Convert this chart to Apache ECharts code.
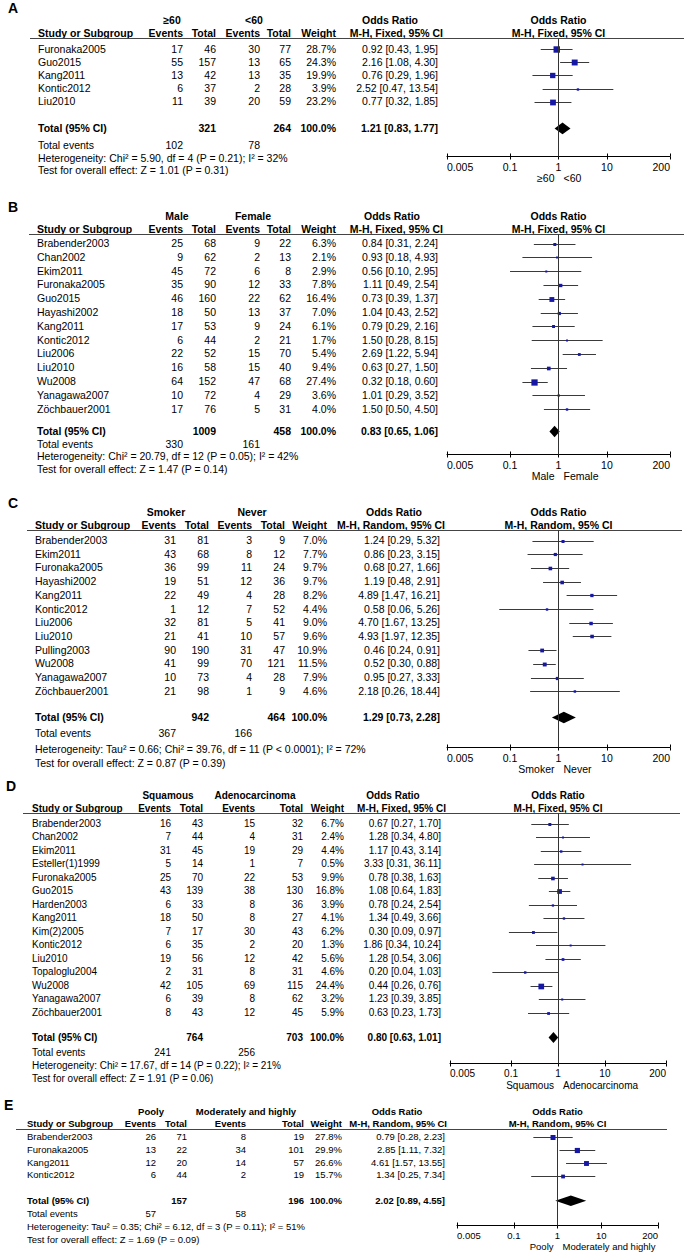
<!DOCTYPE html>
<html><head><meta charset="utf-8">
<script src="https://cdn.jsdelivr.net/npm/echarts@6/dist/echarts.min.js"></script>
<style>html,body{margin:0;padding:0;background:#fff}#c{width:685px;height:1255px}</style>
</head><body><div id="c"></div>
<script>
// ---------------- DATA ----------------
const TICK_VALUES = [0.005, 0.1, 1, 10, 200];
const TICK_LABELS = ['0.005', '0.1', '1', '10', '200'];

// Panel A : age
const A_studies = ['Furonaka2005', 'Guo2015', 'Kang2011', 'Kontic2012', 'Liu2010'];
const A_events1 = [17, 55, 13, 6, 11];
const A_total1 = [46, 157, 42, 37, 39];
const A_events2 = [30, 13, 13, 2, 20];
const A_total2 = [77, 65, 35, 28, 59];
const A_weight = [28.7, 24.3, 19.9, 3.9, 23.2];
const A_or = [0.92, 2.16, 0.76, 2.52, 0.77];
const A_lower = [0.43, 1.08, 0.29, 0.47, 0.32];
const A_upper = [1.95, 4.30, 1.96, 13.54, 1.85];
const A_summary = [1.21, 0.83, 1.77];
const A_totals = [321, 264];
const A_totalEvents = [102, 78];
const A_groups = ['≥60', '<60'];
const A_method = 'M-H, Fixed, 95% CI';
const A_heterogeneity = 'Heterogeneity: Chi² = 5.90, df = 4 (P = 0.21); I² = 32%';
const A_overallTest = 'Test for overall effect: Z = 1.01 (P = 0.31)';

// Panel B : gender
const B_studies = ['Brabender2003', 'Chan2002', 'Ekim2011', 'Furonaka2005', 'Guo2015', 'Hayashi2002', 'Kang2011', 'Kontic2012', 'Liu2006', 'Liu2010', 'Wu2008', 'Yanagawa2007', 'Zöchbauer2001'];
const B_events1 = [25, 9, 45, 35, 46, 18, 17, 6, 22, 16, 64, 10, 17];
const B_total1 = [68, 62, 72, 90, 160, 50, 53, 44, 52, 58, 152, 72, 76];
const B_events2 = [9, 2, 6, 12, 22, 13, 9, 2, 15, 15, 47, 4, 5];
const B_total2 = [22, 13, 8, 33, 62, 37, 24, 21, 70, 40, 68, 29, 31];
const B_weight = [6.3, 2.1, 2.9, 7.8, 16.4, 7.0, 6.1, 1.7, 5.4, 9.4, 27.4, 3.6, 4.0];
const B_or = [0.84, 0.93, 0.56, 1.11, 0.73, 1.04, 0.79, 1.50, 2.69, 0.63, 0.32, 1.01, 1.50];
const B_lower = [0.31, 0.18, 0.10, 0.49, 0.39, 0.43, 0.29, 0.28, 1.22, 0.27, 0.18, 0.29, 0.50];
const B_upper = [2.24, 4.93, 2.95, 2.54, 1.37, 2.52, 2.16, 8.15, 5.94, 1.50, 0.60, 3.52, 4.50];
const B_summary = [0.83, 0.65, 1.06];
const B_totals = [1009, 458];
const B_totalEvents = [330, 161];
const B_groups = ['Male', 'Female'];
const B_method = 'M-H, Fixed, 95% CI';
const B_heterogeneity = 'Heterogeneity: Chi² = 20.79, df = 12 (P = 0.05); I² = 42%';
const B_overallTest = 'Test for overall effect: Z = 1.47 (P = 0.14)';

// Panel C : smoking
const C_studies = ['Brabender2003', 'Ekim2011', 'Furonaka2005', 'Hayashi2002', 'Kang2011', 'Kontic2012', 'Liu2006', 'Liu2010', 'Pulling2003', 'Wu2008', 'Yanagawa2007', 'Zöchbauer2001'];
const C_events1 = [31, 43, 36, 19, 22, 1, 32, 21, 90, 41, 10, 21];
const C_total1 = [81, 68, 99, 51, 49, 12, 81, 41, 190, 99, 73, 98];
const C_events2 = [3, 8, 11, 12, 4, 7, 5, 10, 31, 70, 4, 1];
const C_total2 = [9, 12, 24, 36, 28, 52, 41, 57, 47, 121, 28, 9];
const C_weight = [7.0, 7.7, 9.7, 9.7, 8.2, 4.4, 9.0, 9.6, 10.9, 11.5, 7.9, 4.6];
const C_or = [1.24, 0.86, 0.68, 1.19, 4.89, 0.58, 4.70, 4.93, 0.46, 0.52, 0.95, 2.18];
const C_lower = [0.29, 0.23, 0.27, 0.48, 1.47, 0.06, 1.67, 1.97, 0.24, 0.30, 0.27, 0.26];
const C_upper = [5.32, 3.15, 1.66, 2.91, 16.21, 5.26, 13.25, 12.35, 0.91, 0.88, 3.33, 18.44];
const C_summary = [1.29, 0.73, 2.28];
const C_totals = [942, 464];
const C_totalEvents = [367, 166];
const C_groups = ['Smoker', 'Never'];
const C_method = 'M-H, Random, 95% CI';
const C_heterogeneity = 'Heterogeneity: Tau² = 0.66; Chi² = 39.76, df = 11 (P < 0.0001); I² = 72%';
const C_overallTest = 'Test for overall effect: Z = 0.87 (P = 0.39)';

// Panel D : histology
const D_studies = ['Brabender2003', 'Chan2002', 'Ekim2011', 'Esteller(1)1999', 'Furonaka2005', 'Guo2015', 'Harden2003', 'Kang2011', 'Kim(2)2005', 'Kontic2012', 'Liu2010', 'Topaloglu2004', 'Wu2008', 'Yanagawa2007', 'Zöchbauer2001'];
const D_events1 = [16, 7, 31, 5, 25, 43, 6, 18, 7, 6, 19, 2, 42, 6, 8];
const D_total1 = [43, 44, 45, 14, 70, 139, 33, 50, 17, 35, 56, 31, 105, 39, 43];
const D_events2 = [15, 4, 19, 1, 22, 38, 8, 8, 30, 2, 12, 8, 69, 8, 12];
const D_total2 = [32, 31, 29, 7, 53, 130, 36, 27, 43, 20, 42, 31, 115, 62, 45];
const D_weight = [6.7, 2.4, 4.4, 0.5, 9.9, 16.8, 3.9, 4.1, 6.2, 1.3, 5.6, 4.6, 24.4, 3.2, 5.9];
const D_or = [0.67, 1.28, 1.17, 3.33, 0.78, 1.08, 0.78, 1.34, 0.30, 1.86, 1.28, 0.20, 0.44, 1.23, 0.63];
const D_lower = [0.27, 0.34, 0.43, 0.31, 0.38, 0.64, 0.24, 0.49, 0.09, 0.34, 0.54, 0.04, 0.26, 0.39, 0.23];
const D_upper = [1.70, 4.80, 3.14, 36.11, 1.63, 1.83, 2.54, 3.66, 0.97, 10.24, 3.06, 1.03, 0.76, 3.85, 1.73];
const D_summary = [0.80, 0.63, 1.01];
const D_totals = [764, 703];
const D_totalEvents = [241, 256];
const D_groups = ['Squamous', 'Adenocarcinoma'];
const D_method = 'M-H, Fixed, 95% CI';
const D_heterogeneity = 'Heterogeneity: Chi² = 17.67, df = 14 (P = 0.22); I² = 21%';
const D_overallTest = 'Test for overall effect: Z = 1.91 (P = 0.06)';

// Panel E : differentiation
const E_studies = ['Brabender2003', 'Furonaka2005', 'Kang2011', 'Kontic2012'];
const E_events1 = [26, 13, 12, 6];
const E_total1 = [71, 22, 20, 44];
const E_events2 = [8, 34, 14, 2];
const E_total2 = [19, 101, 57, 19];
const E_weight = [27.8, 29.9, 26.6, 15.7];
const E_or = [0.79, 2.85, 4.61, 1.34];
const E_lower = [0.28, 1.11, 1.57, 0.25];
const E_upper = [2.23, 7.32, 13.55, 7.34];
const E_summary = [2.02, 0.89, 4.55];
const E_totals = [157, 196];
const E_totalEvents = [57, 58];
const E_groups = ['Pooly', 'Moderately and highly'];
const E_method = 'M-H, Random, 95% CI';
const E_heterogeneity = 'Heterogeneity: Tau² = 0.35; Chi² = 6.12, df = 3 (P = 0.11); I² = 51%';
const E_overallTest = 'Test for overall effect: Z = 1.69 (P = 0.09)';

const panels = [
  {id:'A', studies:A_studies, ev1:A_events1, n1:A_total1, ev2:A_events2, n2:A_total2, w:A_weight, or:A_or, lo:A_lower, hi:A_upper, sum:A_summary, tot:A_totals, tev:A_totalEvents, groups:A_groups, method:A_method, het:A_heterogeneity, test:A_overallTest},
  {id:'B', studies:B_studies, ev1:B_events1, n1:B_total1, ev2:B_events2, n2:B_total2, w:B_weight, or:B_or, lo:B_lower, hi:B_upper, sum:B_summary, tot:B_totals, tev:B_totalEvents, groups:B_groups, method:B_method, het:B_heterogeneity, test:B_overallTest},
  {id:'C', studies:C_studies, ev1:C_events1, n1:C_total1, ev2:C_events2, n2:C_total2, w:C_weight, or:C_or, lo:C_lower, hi:C_upper, sum:C_summary, tot:C_totals, tev:C_totalEvents, groups:C_groups, method:C_method, het:C_heterogeneity, test:C_overallTest},
  {id:'D', studies:D_studies, ev1:D_events1, n1:D_total1, ev2:D_events2, n2:D_total2, w:D_weight, or:D_or, lo:D_lower, hi:D_upper, sum:D_summary, tot:D_totals, tev:D_totalEvents, groups:D_groups, method:D_method, het:D_heterogeneity, test:D_overallTest},
  {id:'E', studies:E_studies, ev1:E_events1, n1:E_total1, ev2:E_events2, n2:E_total2, w:E_weight, or:E_or, lo:E_lower, hi:E_upper, sum:E_summary, tot:E_totals, tev:E_totalEvents, groups:E_groups, method:E_method, het:E_heterogeneity, test:E_overallTest}
];

// ---------------- LAYOUT (pixels) ----------------
const layouts = {
  A:{lx:8, ly:8, h1:19.5, h2:33, ul:38, r0:48.5, step:13.1, total:127.5, te:145, het:157.5, test:170, nameX:38, ulX0:30, ulX1:684, cols:[183,216,260,291,336,438], g:[172,254], orX:390, mR:443, axL:447, axR:670, fs:10.5, k:1.2},
  B:{lx:8, ly:207, h1:216, h2:229, ul:234, r0:243, step:13.8, total:431, te:444, het:456, test:469, nameX:37, ulX0:29, ulX1:684, cols:[183,216,260,291,336,438], g:[177,253], orX:392, mR:443, axL:447, axR:670, fs:10.5, k:1.2},
  C:{lx:8, ly:503, h1:512, h2:525, ul:530, r0:540, step:13.7, total:717, te:733, het:749, test:763, nameX:35, ulX0:27, ulX1:682, cols:[176,209,252,285,327,440], g:[166,252], orX:394, mR:445, axL:447, axR:670, fs:10.5, k:1.15},
  D:{lx:6, ly:786, h1:795, h2:808, ul:813, r0:823, step:13.5, total:1037, te:1052, het:1065, test:1078, nameX:32, ulX0:23, ulX1:680, cols:[171,203,255,303,344,441], g:[168,255], orX:393, mR:446, axL:450, axR:666, fs:10, k:1.15},
  E:{lx:4, ly:1105, h1:1111.5, h2:1123.5, ul:1129, r0:1136.5, step:12.8, total:1200, te:1213.5, het:1226.5, test:1239, nameX:27, ulX0:16, ulX1:667, cols:[156,187,246,304,342,445], g:[151,246], orX:397, mR:447, axL:457, axR:658, fs:9.5, k:0.95}
};

const FF = '"Liberation Sans", Arial, Helvetica, sans-serif';
const SQ_COLOR = '#1717a6';
const CI_COLOR = '#3a3a3a';
const LOG_MIN = Math.log10(TICK_VALUES[0]);
const LOG_MAX = Math.log10(TICK_VALUES[TICK_VALUES.length - 1]);
const TICK_LOGS = TICK_VALUES.map(v => Math.log10(v));

function tickLabel(v) {
  const i = TICK_LOGS.findIndex(t => Math.abs(t - v) < 1e-6);
  return i >= 0 ? TICK_LABELS[i] : '';
}
function txt(x, y, s, size, align, bold) {
  return {type:'text', silent:true, x:x, y:y, style:{text:String(s), fill:'#000',
    font:(bold ? 'bold ' : '') + size + 'px ' + FF, textAlign:align || 'left', textVerticalAlign:'middle',
    align:align || 'left', verticalAlign:'middle'}};
}
function hline(x1, x2, y, color) {
  const yy = Math.round(y) + 0.5;
  return {type:'line', silent:true, shape:{x1:x1, y1:yy, x2:x2, y2:yy}, style:{stroke:color || '#333', lineWidth:1}};
}
const fmtCI = (o, l, h) => o.toFixed(2) + ' [' + l.toFixed(2) + ', ' + h.toFixed(2) + ']';

const graphics = [];
const grids = [], xAxes = [], yAxes = [], series = [];

panels.forEach((p, i) => {
  const L = layouts[p.id];
  const fs = L.fs;
  const rowY = j => L.r0 + j * L.step;
  const axisY = L.het - 2;
  const c = L.cols;
  // titles & headers
  graphics.push(txt(L.lx, L.ly, p.id, 14, 'left', true));
  graphics.push(txt(L.g[0], L.h1, p.groups[0], fs, 'center', true));
  graphics.push(txt(L.g[1], L.h1, p.groups[1], fs, 'center', true));
  graphics.push(txt(L.orX, L.h1, 'Odds Ratio', fs, 'center', true));
  graphics.push(txt((L.axL + L.axR) / 2, L.h1, 'Odds Ratio', fs, 'center', true));
  graphics.push(txt(L.nameX, L.h2, 'Study or Subgroup', fs, 'left', true));
  graphics.push(txt(c[0], L.h2, 'Events', fs, 'right', true));
  graphics.push(txt(c[1], L.h2, 'Total', fs, 'right', true));
  graphics.push(txt(c[2], L.h2, 'Events', fs, 'right', true));
  graphics.push(txt(c[3], L.h2, 'Total', fs, 'right', true));
  graphics.push(txt(c[4], L.h2, 'Weight', fs, 'right', true));
  graphics.push(txt(L.mR, L.h2, p.method, fs, 'right', true));
  graphics.push(txt((L.axL + L.axR) / 2, L.h2, p.method, fs, 'center', true));
  graphics.push(hline(L.ulX0, L.ulX1, L.ul, '#444'));
  // study rows
  p.studies.forEach((s, j) => {
    const y = rowY(j);
    graphics.push(txt(L.nameX, y, s, fs, 'left'));
    graphics.push(txt(c[0], y, p.ev1[j], fs, 'right'));
    graphics.push(txt(c[1], y, p.n1[j], fs, 'right'));
    graphics.push(txt(c[2], y, p.ev2[j], fs, 'right'));
    graphics.push(txt(c[3], y, p.n2[j], fs, 'right'));
    graphics.push(txt(c[4], y, p.w[j].toFixed(1) + '%', fs, 'right'));
    graphics.push(txt(c[5], y, fmtCI(p.or[j], p.lo[j], p.hi[j]), fs, 'right'));
  });
  // totals
  graphics.push(txt(L.nameX, L.total, 'Total (95% CI)', fs, 'left', true));
  graphics.push(txt(c[1], L.total, p.tot[0], fs, 'right', true));
  graphics.push(txt(c[3], L.total, p.tot[1], fs, 'right', true));
  graphics.push(txt(c[4], L.total, '100.0%', fs, 'right', true));
  graphics.push(txt(c[5], L.total, fmtCI(p.sum[0], p.sum[1], p.sum[2]), fs, 'right', true));
  graphics.push(txt(L.nameX, L.te, 'Total events', fs, 'left'));
  graphics.push(txt(c[0], L.te, p.tev[0], fs, 'right'));
  graphics.push(txt(c[2], L.te, p.tev[1], fs, 'right'));
  graphics.push(txt(L.nameX, L.het, p.het, fs, 'left'));
  graphics.push(txt(L.nameX, L.test, p.test, fs, 'left'));

  // forest plot grid
  const vTop = (L.ul - L.r0) / L.step;
  const vBot = (axisY - L.r0) / L.step;
  const totIdx = (L.total - L.r0) / L.step;
  grids.push({left:L.axL, width:L.axR - L.axL, top:Math.round(L.ul) + 0.5, height:Math.round(axisY) - Math.round(L.ul), outerBoundsMode:'none', containLabel:false});
  const axCommon = {gridIndex:i, type:'value', min:LOG_MIN, max:LOG_MAX, position:'bottom', splitLine:{show:false}};
  xAxes.push(Object.assign({}, axCommon, {
    axisLine:{show:true, onZero:false, lineStyle:{color:'#000', width:1}},
    axisTick:{show:true, inside:false, length:3, customValues:TICK_LOGS, lineStyle:{color:'#000', width:1}},
    axisLabel:{show:true, customValues:TICK_LOGS, formatter:tickLabel, margin:5, color:'#000', fontSize:fs, fontFamily:FF,
      alignMinLabel:'left', alignMaxLabel:'right'}
  }));
  xAxes.push(Object.assign({}, axCommon, {
    axisLine:{show:false, onZero:false},
    axisTick:{show:true, inside:true, length:3, customValues:TICK_LOGS, lineStyle:{color:'#000', width:1}},
    axisLabel:{show:false}
  }));
  yAxes.push({gridIndex:i, type:'value', inverse:true, min:vTop, max:vBot, show:false});

  const k = L.k;
  series.push({
    type:'custom', xAxisIndex:2 * i, yAxisIndex:i, clip:false, silent:true,
    encode:{x:[0, 1, 2], y:3},
    data:p.studies.map((s, j) => [Math.log10(p.or[j]), Math.log10(p.lo[j]), Math.log10(p.hi[j]), j, p.w[j]]),
    renderItem:(params, api) => {
      const row = api.value(3);
      const cc = api.coord([api.value(0), row]);
      const l = api.coord([api.value(1), row]);
      const h = api.coord([api.value(2), row]);
      const side = Math.max(2, k * Math.sqrt(api.value(4)));
      const yy = Math.round(cc[1]) + 0.5;
      return {type:'group', children:[
        {type:'line', shape:{x1:l[0], y1:yy, x2:h[0], y2:yy}, style:{stroke:CI_COLOR, lineWidth:1}},
        {type:'rect', shape:{x:cc[0] - side / 2, y:yy - side / 2, width:side, height:side}, style:{fill:SQ_COLOR}}
      ]};
    },
    markLine:{silent:true, symbol:['none', 'none'], animation:false, label:{show:false},
      lineStyle:{color:'#333', width:1, type:'solid'}, data:[{xAxis:0}]}
  });
  series.push({
    type:'custom', xAxisIndex:2 * i, yAxisIndex:i, clip:false, silent:true,
    encode:{x:[0, 1, 2], y:3},
    data:[[Math.log10(p.sum[0]), Math.log10(p.sum[1]), Math.log10(p.sum[2]), totIdx]],
    renderItem:(params, api) => {
      const row = api.value(3);
      const cc = api.coord([api.value(0), row]);
      const l = api.coord([api.value(1), row]);
      const h = api.coord([api.value(2), row]);
      const hh = 5.8 * (fs / 10.5);
      return {type:'polygon', shape:{points:[[l[0], cc[1]], [cc[0], cc[1] - hh], [h[0], cc[1]], [cc[0], cc[1] + hh]]}, style:{fill:'#000'}};
    }
  });
});

const chart = echarts.init(document.getElementById('c'), null, {renderer:'svg', width:685, height:1255});
chart.setOption({animation:false, backgroundColor:'#fff', grid:grids, xAxis:xAxes, yAxis:yAxes, series:series, graphic:graphics});

// group labels under each axis, placed around the "1" line via the axis scale
panels.forEach((p, i) => {
  const L = layouts[p.id];
  const axisY = L.het - 2;
  const x1 = chart.convertToPixel({xAxisIndex:2 * i}, 0);
  graphics.push(txt(x1 - 4, axisY + 22, p.groups[0], L.fs, 'right'));
  graphics.push(txt(x1 + 5, axisY + 22, p.groups[1], L.fs, 'left'));
});
chart.setOption({graphic:graphics});
</script></body></html>
